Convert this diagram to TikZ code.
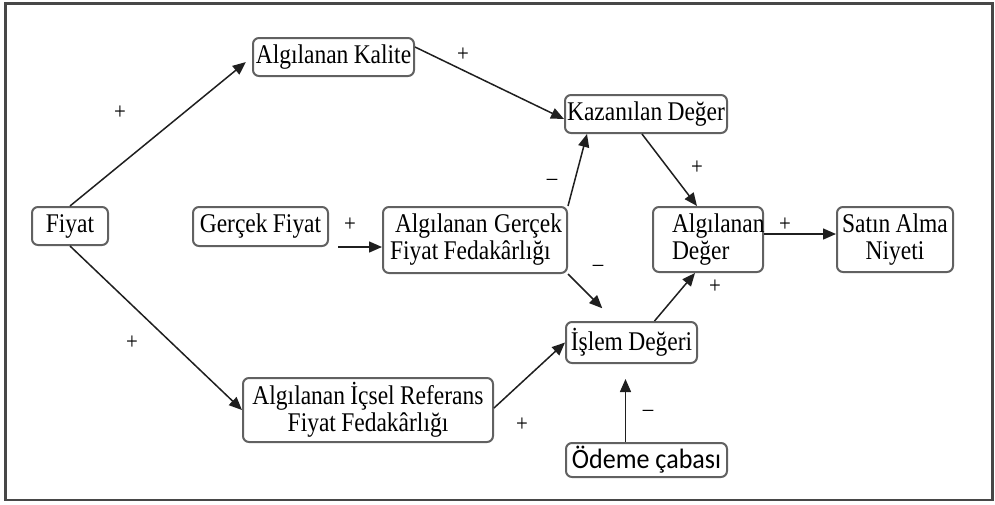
\documentclass[tikz,border=0pt]{standalone}
\usepackage{fontspec}
\setmainfont{Liberation Serif}[FakeStretch=0.87, WordSpace=0.9]
\newfontfamily\uifont{Carlito}[FakeStretch=0.93]
\usetikzlibrary{arrows.meta,calc}

\tikzset{
  box/.style={draw=black!62, line width=2pt, rounded corners=6pt, fill=white,
    inner sep=0pt, text=black, font=\fontsize{27}{27}\selectfont},
  arr/.style={draw=black!88, line width=1.5pt, -{Triangle[length=13pt,width=11pt]}},
  sign/.style={inner sep=0pt, font=\fontsize{24}{24}\selectfont},
}

\begin{document}
\begin{tikzpicture}[x=1pt, y=-1pt]
  \useasboundingbox (0,0) rectangle (995,504);
  % outer frame
  \draw[line width=2.2pt, draw=black!72] (5.5,3.5) rectangle (992.5,500);

  % concept boxes
  \node[box, minimum width=76pt, minimum height=38pt] (fiyat) at (70,226) {Fiyat};
  \node[box, minimum width=135pt, minimum height=39pt] (gercek) at (260.5,226.5) {Gerçek Fiyat};
  \node[box, minimum width=161pt, minimum height=38pt] (kalite) at (333.5,57) {Algılanan Kalite};
  \node[box, minimum width=162pt, minimum height=38pt] (kazan) at (646,114) {Kazanılan Değer};
  \node[box, minimum width=184pt, minimum height=66pt, align=left] (fedak) at (475,240)
    {\makebox[184pt][l]{\hspace*{12pt}Algılanan\hfill Gerçek\hspace*{5pt}}\\
     \makebox[184pt][l]{\hspace*{7pt}Fiyat Fedakârlığı}};
  \node[box, minimum width=110pt, minimum height=65pt, align=left] (deger) at (708,239.5)
    {\makebox[110pt][l]{\hspace*{19pt}Algılanan}\\\makebox[110pt][l]{\hspace*{19pt}Değer}};
  \node[box, minimum width=116pt, minimum height=65pt, align=center] (satin) at (895,239.5)
    {Satın Alma\\Niyeti};
  \node[box, minimum width=131pt, minimum height=41pt] (islem) at (631.5,342.5) {İşlem Değeri};
  \node[box, minimum width=250pt, minimum height=64pt, align=center] (icsel) at (368,410)
    {Algılanan İçsel Referans\\Fiyat Fedakârlığı};
  \node[box, minimum width=161pt, minimum height=34pt, font=\uifont\fontsize{28}{28}\selectfont] (odeme) at (646.5,460)
    {Ödeme çabası};

  % connectors
  \draw[arr, shorten >=8pt] (fiyat.north) -- (kalite.west);
  \draw[arr] (fiyat.south) -- (icsel.west);
  \draw[arr, shorten <=9pt] (gercek.south east) -- (gercek.south east -| fedak.west);
  \draw[arr] ([yshift=10pt]kalite.east) -- ([yshift=-5pt]kazan.west);
  \draw[arr] (fedak.north east) -- ([xshift=23pt]kazan.south west);
  \draw[arr, shorten >=18pt] (fedak.south east) -- ([xshift=50pt]islem.north west);
  \draw[arr] ([xshift=-4pt]kazan.south) -- ([xshift=-11pt]deger.north);
  \draw[arr] ([xshift=23pt]islem.north) -- ([xshift=-13pt]deger.south);
  \draw[arr] ([yshift=5.5pt]deger.east) -- ([yshift=5.5pt]deger.east -| satin.west);
  \draw[arr] ([yshift=2pt]icsel.east) -- (islem.west);
  \draw[arr, shorten >=15pt] ([xshift=-21pt]odeme.north) -- ([xshift=-21pt]odeme.north |- islem.south);

  % polarity signs
  \node[sign] (s1) at (120,113) {+};
  \node[sign] (s2) at (132,343) {+};
  \node[sign] (s3) at (463,55) {+};
  \node[sign] (s4) at (350,225) {+};
  \node[sign] (s5) at (552,182) {\textendash};
  \node[sign] (s6) at (598,268) {\textendash};
  \node[sign] (s7) at (697,168) {+};
  \node[sign] (s8) at (785,225) {+};
  \node[sign] (s9) at (715,287) {+};
  \node[sign] (s10) at (522,425) {+};
  \node[sign] (s11) at (648,413) {\textendash};
\end{tikzpicture}
\end{document}
